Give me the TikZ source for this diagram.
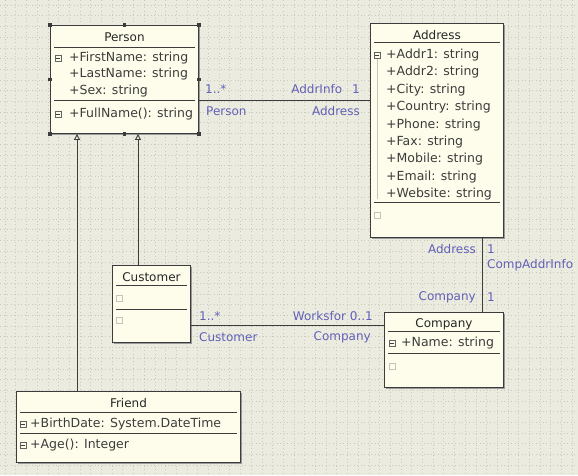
\documentclass[tikz,border=0pt]{standalone}
\usepackage{fontspec}
\setmainfont{DejaVu Sans}
\usepackage{xcolor}
\usetikzlibrary{arrows.meta,positioning,calc}
\definecolor{canvas}{HTML}{ECEBE0}
\definecolor{gridc}{HTML}{CACABC}
\definecolor{paper}{HTML}{FEFDEC}
\definecolor{ink}{HTML}{3C3C3C}
\definecolor{role}{HTML}{6060B8}
\definecolor{faint}{HTML}{C4C4B8}
\tikzset{
  classbox/.style={draw=ink, line width=0.9pt, fill=paper, anchor=north west, inner sep=0pt},
  shade/.style={fill=black!40},
  ctitle/.style={font=\fontsize{12}{14}\selectfont, text=black!85, inner sep=0pt},
  member/.style={font=\fontsize{12.5}{14}\selectfont, text=ink, anchor=west, inner sep=0pt},
  divline/.style={draw=ink, line width=0.8pt},
  tog/.style={draw=ink!80, line width=0.5pt, fill=paper, minimum size=6.5pt, inner sep=0pt,
    path picture={\draw[ink, line width=0.5pt] ([xshift=1.3pt]path picture bounding box.west) -- ([xshift=-1.3pt]path picture bounding box.east);}},
  emptytog/.style={draw=faint, line width=0.5pt, minimum size=6.5pt, inner sep=0pt},
  treeline/.style={draw=faint, line width=0.5pt},
  handle/.style={fill=ink, minimum size=3.5pt, inner sep=0pt},
  assoc/.style={draw=ink, line width=0.9pt},
  gen/.style={draw=ink, line width=0.9pt, -{Triangle[open, length=6pt, width=6pt]}},
  rolel/.style={font=\fontsize{12}{14}\selectfont, text=role, inner sep=0pt},
  gridline/.style={gridc, line width=0.6pt, dash pattern=on 1pt off 2.5pt},
}
% class frame: name / x / y / width / height / title
\newcommand{\umlclass}[6]{%
  \fill[shade] (#2+1.8,#3+1.8) rectangle ++(#4,#5);
  \node[classbox, minimum width=#4pt, minimum height=#5pt] (#1) at (#2,#3) {};
  \node[ctitle] (#1-title) at ($(#1.north)+(0,12)$) {#6};}
% divider inside a class: name / y
\newcommand{\divider}[2]{%
  \coordinate (#1-d#2) at (0,#2);
  \draw[divline] ([xshift=4pt]#1.west |- #1-d#2) -- ([xshift=-4pt]#1.east |- #1-d#2);}
% member rows: prefix / x / first y / step / list
\newcommand{\members}[5]{%
  \foreach \m [count=\i from 0] in {#5}
    \node[member] (#1\i) at (#2,#3+#4*\i) {\m};}

\begin{document}
\begin{tikzpicture}[x=1pt,y=-1pt]
  \useasboundingbox (0,0) rectangle (578,475);
  \fill[canvas] (0,0) rectangle (578,475);
  \foreach \gx in {5,15.7,...,578} \draw[gridline] (\gx,0) -- (\gx,475);
  \foreach \gy in {5,15.7,...,475} \draw[gridline] (0,\gy) -- (578,\gy);

  % classes
  \umlclass{person}{50}{25}{148}{108}{Person}
  \divider{person}{47}
  \divider{person}{100}
  \node[tog] (person-tog1) at (58,58) {};
  \node[tog] (person-tog2) at (58,114) {};
  \members{person-a}{69}{58}{16.5}{+FirstName: string, +LastName: string, +Sex: string}
  \members{person-o}{69}{114}{0}{+FullName(): string}
  \foreach \a [count=\k] in {north west,north,north east,west,east,south west,south,south east}
    \node[handle] (person-h\k) at (person.\a) {};

  \umlclass{address}{370}{23}{133}{214}{Address}
  \divider{address}{42}
  \divider{address}{202}
  \node[tog] (address-tog1) at (377,55) {};
  \draw[treeline] (address-tog1.south) -- ++(0,140);
  \node[emptytog] (address-tog2) at (377,215) {};
  \members{address-a}{386}{55}{17.4}{+Addr1: string, +Addr2: string, +City: string, +Country: string, +Phone: string, +Fax: string, +Mobile: string, +Email: string, +Website: string}

  \umlclass{customer}{112}{265}{78}{77}{Customer}
  \divider{customer}{285}
  \divider{customer}{309}
  \node[emptytog] (customer-tog1) at (119,298) {};
  \node[emptytog] (customer-tog2) at (119,320) {};

  \umlclass{company}{384}{312}{119}{75}{Company}
  \divider{company}{331}
  \divider{company}{353}
  \node[tog] (company-tog1) at (392,343) {};
  \node[emptytog] (company-tog2) at (392,366) {};
  \members{company-a}{401}{343}{0}{+Name: string}

  \umlclass{friend}{16}{391}{224}{71}{Friend}
  \divider{friend}{412}
  \divider{friend}{433}
  \node[tog] (friend-tog1) at (23,424) {};
  \node[tog] (friend-tog2) at (23,445) {};
  \members{friend-a}{30}{424}{0}{+BirthDate: System.DateTime}
  \members{friend-o}{30}{445}{0}{+Age(): Integer}

  % generalizations
  \coordinate (g1) at ([xshift=27pt]person.south west);
  \coordinate (g2) at ([xshift=88pt]person.south west);
  \draw[gen] (friend.north -| g1) -- (g1);
  \draw[gen] (customer.north -| g2) -- (g2);

  % associations
  \coordinate (pa) at (0,100);
  \draw[assoc] (person.east |- pa) -- (address.west |- pa);
  \node[rolel, anchor=west] (pa-m1) at (205,89) {1..*};
  \node[rolel, anchor=west] (pa-r1) at (206,111) {Person};
  \node[rolel, anchor=east] (pa-m2) at (360,89) {AddrInfo\hspace{10pt}1};
  \node[rolel, anchor=east] (pa-r2) at (360,111) {Address};

  \coordinate (ac) at (482,0);
  \draw[assoc] (address.south -| ac) -- (company.north -| ac);
  \node[rolel, anchor=east] (ac-r1) at (476,249) {Address};
  \node[rolel, anchor=west] (ac-m1) at (487,249) {1};
  \node[rolel, anchor=west] (ac-n) at (487,265) {CompAddrInfo};
  \node[rolel, anchor=east] (ac-r2) at (476,297) {Company};
  \node[rolel, anchor=west] (ac-m2) at (487,297) {1};

  \coordinate (cc) at (0,325);
  \draw[assoc] (customer.east |- cc) -- (company.west |- cc);
  \node[rolel, anchor=west] (cc-m1) at (199,316) {1..*};
  \node[rolel, anchor=west] (cc-r1) at (199,337) {Customer};
  \node[rolel, anchor=east] (cc-m2) at (373,316) {Worksfor 0..1};
  \node[rolel, anchor=east] (cc-r2) at (371,337) {Company};
\end{tikzpicture}
\end{document}
